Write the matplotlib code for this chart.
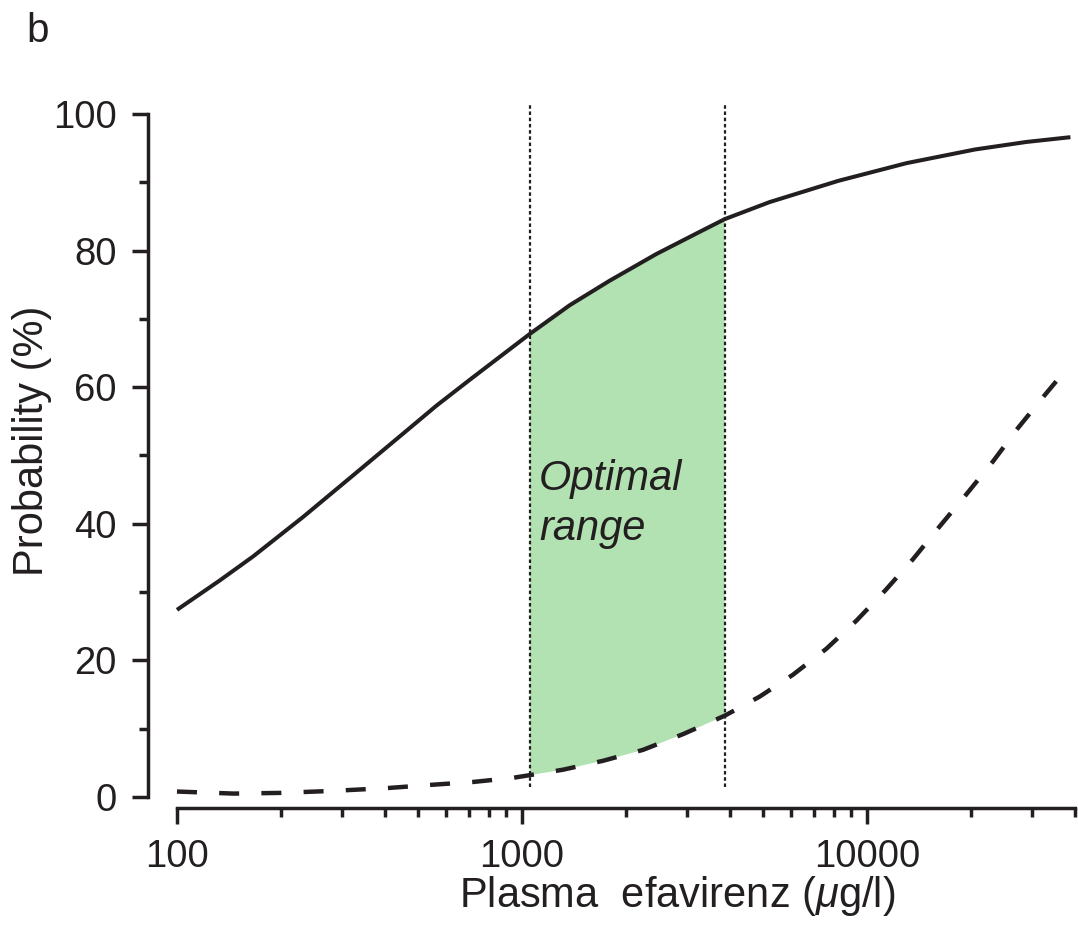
import matplotlib
matplotlib.use("Agg")
import matplotlib.pyplot as plt

plt.rcParams["font.family"] = ["Liberation Sans", "DejaVu Sans"]
plt.rcParams["mathtext.fontset"] = "custom"
plt.rcParams["mathtext.rm"] = "Liberation Sans"
plt.rcParams["mathtext.it"] = "Liberation Sans:italic"

INK = "#231f20"
GREEN = "#b2e2b2"

# Probability of virological response (solid) vs. plasma efavirenz concentration
conc_solid = [100, 133, 166, 232, 324, 452, 565, 706, 1053, 1374, 1795, 2450,
              3200, 3864, 5216, 8235, 13000, 20530, 28910, 38800]
prob_solid = [27.4, 31.7, 35.2, 41.0, 47.1, 53.2, 57.3, 61.1, 67.8, 72.0, 75.6,
              79.5, 82.5, 84.6, 87.1, 90.2, 92.8, 94.8, 95.9, 96.6]

# Probability of CNS toxicity (dashed)
conc_dashed = [100, 146, 199, 284, 405, 552, 721, 939, 1053, 1315, 1716, 2240,
               2926, 3864, 4880, 6093, 7614, 9298, 11305, 13563, 16205, 19365,
               23120, 27320, 32640, 37560]
prob_dashed = [0.8, 0.5, 0.6, 0.9, 1.3, 1.8, 2.2, 2.8, 3.2, 4.0, 5.3, 6.9, 9.2,
               11.9, 14.7, 17.9, 21.7, 25.8, 30.3, 34.8, 39.6, 44.3, 49.1, 54.0,
               58.8, 62.5]

# Therapeutic window
range_lo, range_hi = 1053, 3864

x_ticks_major = [100, 1000, 10000]
x_tick_labels = ["100", "1000", "10000"]
x_ticks_minor = [200, 300, 400, 500, 600, 700, 800, 900,
                 2000, 3000, 4000, 5000, 6000, 7000, 8000, 9000,
                 20000, 30000, 40000]
y_ticks_major = [0, 20, 40, 60, 80, 100]
y_ticks_minor = [10, 30, 50, 70, 90]

fig = plt.figure(figsize=(10.78, 9.25), dpi=100)
ax = fig.add_axes([148 / 1078, 0.12649, 927 / 1078, 0.76508])
ax.set_xscale("log")
ax.set_xlim(82.42, 40000)
ax.set_ylim(-1.61, 102)

# shaded optimal range between the two curves
top = [(c, p) for c, p in zip(conc_solid, prob_solid) if range_lo <= c <= range_hi]
bot = [(c, p) for c, p in zip(conc_dashed, prob_dashed) if range_lo <= c <= range_hi]
poly = top + bot[::-1]
ax.fill([c for c, _ in poly], [p for _, p in poly], color=GREEN, lw=0, zorder=1)

for xv in (range_lo, range_hi):
    ax.plot([xv, xv], [1.5, 101.5], color=INK, lw=1.6,
            linestyle=(0, (1.6, 1.2)), dash_capstyle="butt", zorder=2)

ax.plot(conc_solid, prob_solid, color=INK, lw=2.9, solid_capstyle="butt",
        solid_joinstyle="round", zorder=3)
ax.plot(conc_dashed, prob_dashed, color=INK, lw=3.2,
        linestyle=(0, (4.5, 5.0)), dash_capstyle="butt", zorder=3)

ax.text(1120, 45.0, "Optimal", fontsize=30, style="italic", color=INK,
        ha="left", va="baseline", zorder=4)
ax.text(1120, 37.6, "range", fontsize=30, style="italic", color=INK,
        ha="left", va="baseline", zorder=4)

# axes styling
for side in ("top", "right"):
    ax.spines[side].set_visible(False)
for side in ("left", "bottom"):
    ax.spines[side].set_linewidth(2.5)
    ax.spines[side].set_color(INK)
ax.spines["left"].set_bounds(0, 100)
ax.spines["bottom"].set_bounds(100, 40000)

ax.set_xticks(x_ticks_major)
ax.set_xticklabels(x_tick_labels)
ax.set_xticks(x_ticks_minor, minor=True)
ax.set_xticklabels([], minor=True)
ax.set_yticks(y_ticks_major)
ax.set_yticklabels([str(v) for v in y_ticks_major])
ax.set_yticks(y_ticks_minor, minor=True)

ax.tick_params(which="major", direction="out", length=11.5, width=2.5,
               color=INK, labelcolor=INK, labelsize=27.5)
ax.tick_params(which="minor", direction="out", length=6.5, width=2.5, color=INK)
ax.tick_params(axis="y", which="major", pad=11)
ax.tick_params(axis="x", which="major", pad=10.5)

ax.set_ylabel("Probability (%)", fontsize=30, color=INK)
ax.yaxis.set_label_coords(-0.1036, 0.5186)
ax.set_xlabel("Plasma  efavirenz ($\\mu$g/l)", fontsize=30, color=INK)
ax.xaxis.set_label_coords(0.5712, -0.093)

fig.text(26 / 1078, 1 - 41.7 / 925, "b", fontsize=29, color=INK,
         ha="left", va="baseline")

fig.savefig("out.png", dpi=100)
